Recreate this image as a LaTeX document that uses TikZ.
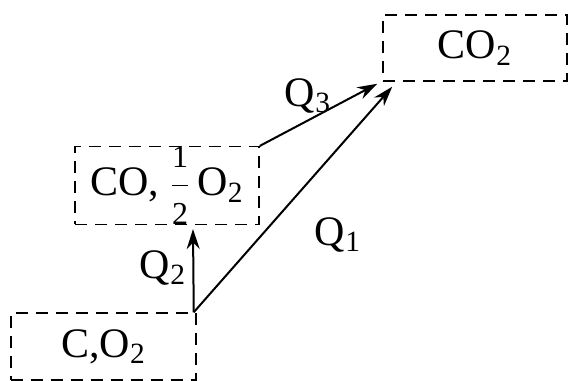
\documentclass[tikz,border=0pt]{standalone}
\usepackage{fontspec}
\setmainfont{Liberation Serif}
\usetikzlibrary{arrows.meta}
\newcommand{\smallfig}[1]{\mbox{\fontsize{16}{16}\selectfont #1}}
\begin{document}
\begin{tikzpicture}[x=0.5pt,y=-0.5pt,
  box/.style={draw,dashed,dash pattern=on 6pt off 4pt,line width=0.75pt,inner sep=0pt,font=\fontsize{21}{23}\selectfont},
  conn/.style={line width=1pt,-{Stealth[length=10pt,width=6.5pt]}},
  lab/.style={font=\fontsize{21}{23}\selectfont,inner sep=0pt}]
\useasboundingbox (0,0) rectangle (569,381);
\node[box,minimum width=92.5pt,minimum height=33.5pt] (A) at (103.5,346.5) {C,O\textsubscript{2}};
\node[box,minimum width=92pt,minimum height=38.5pt] (B) at (167,185.5) {CO, $\displaystyle\frac{\smallfig{1}}{\smallfig{2}}$\,O\textsubscript{2}};
\node[box,minimum width=92pt,minimum height=33pt] (C) at (475,48) {CO\textsubscript{2}};
\coordinate (a1) at ([xshift=-1.5pt]A.north east);
\coordinate (b1) at ([xshift=13pt,yshift=-2pt]B.south);
\coordinate (c1) at ([xshift=-2.5pt,yshift=-1pt]C.south west);
\coordinate (c2) at ([xshift=5pt,yshift=-2.5pt]C.south west);
\draw[conn] (a1) -- (b1);
\draw[conn] (a1) -- (c2);
\draw[conn] (B.north east) -- (c1);
\node[lab] (q2) at (163,268) {Q\textsubscript{2}};
\node[lab] (q1) at (338,235) {Q\textsubscript{1}};
\node[lab] (q3) at (308,96) {Q\textsubscript{3}};
\end{tikzpicture}
\end{document}
